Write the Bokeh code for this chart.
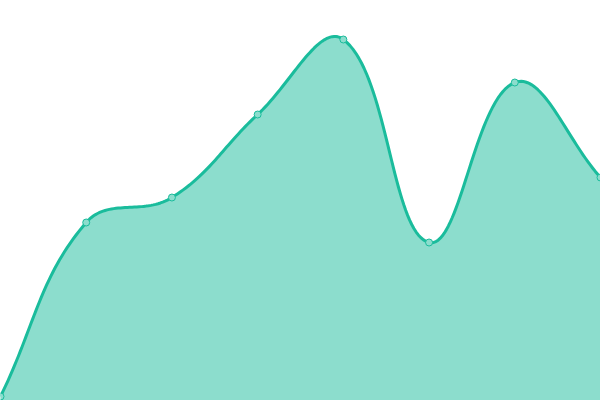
import numpy as np
from bokeh.plotting import figure
from bokeh.embed import file_html
from bokeh.resources import INLINE

# ---- data ----
x_vals = [0, 1, 2, 3, 4, 5, 6, 7]
y_vals = [1.0, 44.5, 50.75, 71.5, 90.25, 39.5, 79.5, 55.75]

LINE = "#1abc9c"
FILL = "#1abc9c"
POINT_FILL = "#8cddcd"

W, H = 600, 400
x_min, x_max = 0.0, 7.0
y_min, y_max = 0.0, 100.0

# ---- smooth (tension 0.4) spline through the points, computed in pixel space ----
sx, sy = W / (x_max - x_min), H / (y_max - y_min)
px = np.array(x_vals, float) * sx
py = np.array(y_vals, float) * sy
n = len(px)
tension = 0.4
cp_prev = np.zeros((n, 2))
cp_next = np.zeros((n, 2))
for i in range(n):
    a = i - 1 if i > 0 else i
    b = i + 1 if i < n - 1 else i
    d01 = np.hypot(px[i] - px[a], py[i] - py[a])
    d12 = np.hypot(px[b] - px[i], py[b] - py[i])
    tot = d01 + d12
    s01 = d01 / tot if tot else 0.0
    s12 = d12 / tot if tot else 0.0
    fa, fb = tension * s01, tension * s12
    dx, dy = px[b] - px[a], py[b] - py[a]
    cp_prev[i] = (px[i] - fa * dx, py[i] - fa * dy)
    cp_next[i] = (px[i] + fb * dx, py[i] + fb * dy)
cp_prev[:, 0] = np.clip(cp_prev[:, 0], 0, W)
cp_next[:, 0] = np.clip(cp_next[:, 0], 0, W)
cp_prev[:, 1] = np.clip(cp_prev[:, 1], 0, H)
cp_next[:, 1] = np.clip(cp_next[:, 1], 0, H)

cx, cy = [], []
t = np.linspace(0, 1, 40)
for i in range(n - 1):
    p0 = np.array([px[i], py[i]])
    p1 = cp_next[i]
    p2 = cp_prev[i + 1]
    p3 = np.array([px[i + 1], py[i + 1]])
    seg = ((1 - t) ** 3)[:, None] * p0 + (3 * (1 - t) ** 2 * t)[:, None] * p1 \
        + (3 * (1 - t) * t ** 2)[:, None] * p2 + (t ** 3)[:, None] * p3
    if i > 0:
        seg = seg[1:]
    cx.extend(seg[:, 0] / sx)
    cy.extend(seg[:, 1] / sy)

p = figure(width=W, height=H, x_range=(x_min, x_max), y_range=(y_min, y_max),
           output_backend="svg", toolbar_location=None,
           x_axis_type=None, y_axis_type=None, min_border=0)
p.grid.visible = False
p.outline_line_color = None
p.background_fill_color = "white"
p.border_fill_color = "white"

p.varea(x=cx, y1=y_min, y2=cy, fill_color=FILL, fill_alpha=0.5)
p.line(x=cx, y=cy, line_color=LINE, line_width=3, line_join="round")
p.scatter(x=x_vals, y=y_vals, size=7, fill_color=POINT_FILL,
          line_color=LINE, line_width=1)

open("out.html", "w").write(file_html(p, INLINE))
